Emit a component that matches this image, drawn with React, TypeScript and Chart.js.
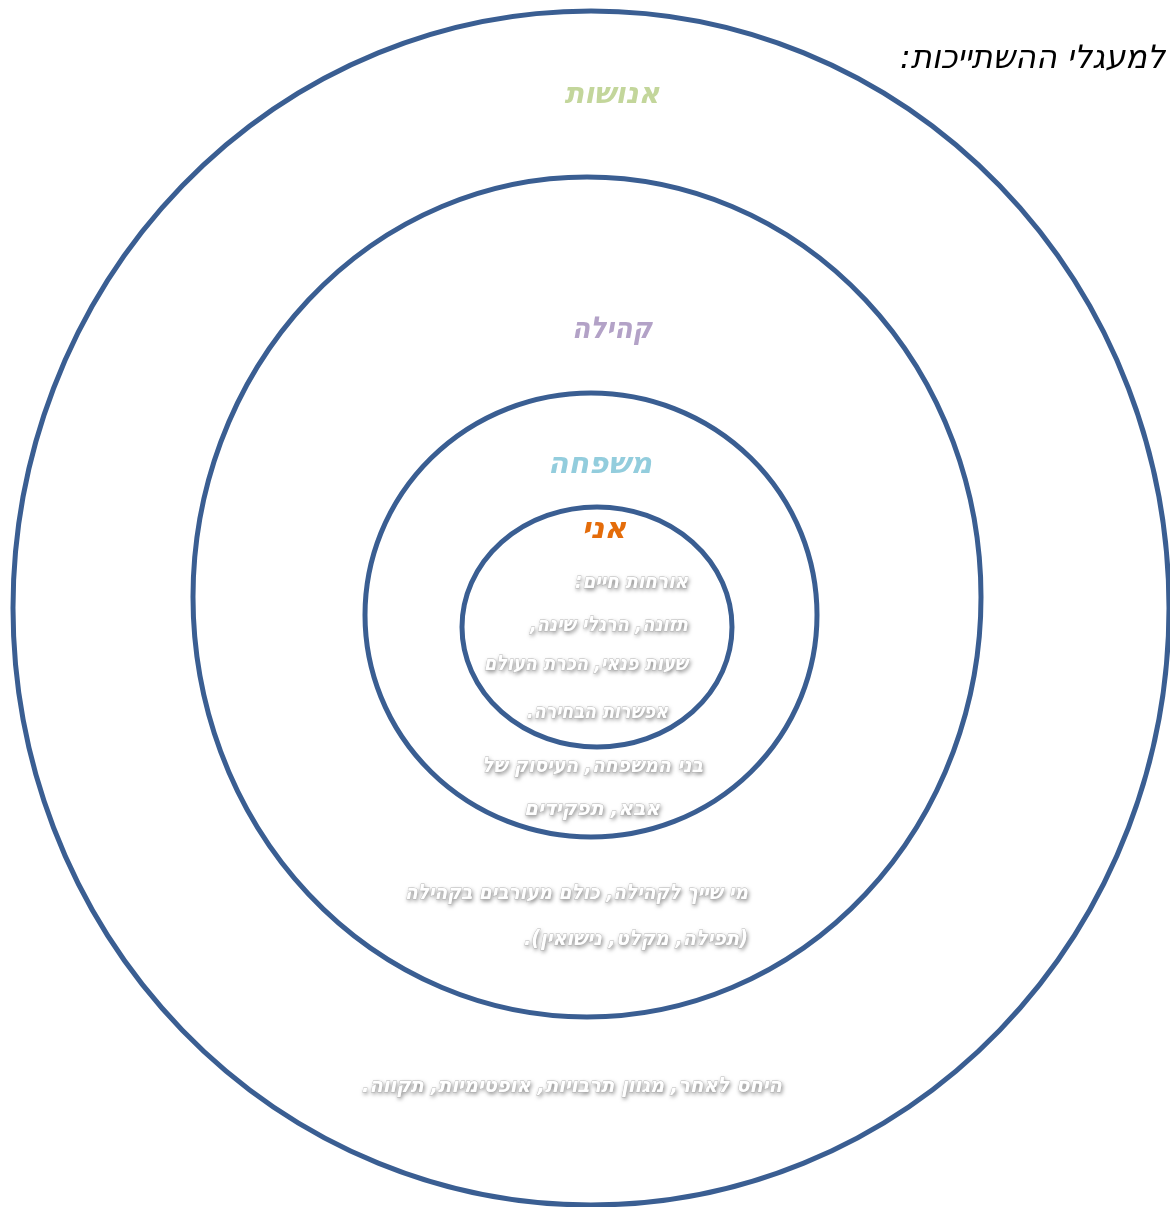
import React, { useEffect, useRef } from "react";
import { Chart, registerables } from "chart.js";

Chart.register(...registerables);

// Rings (ellipses): centre and radii in chart units
const ringNames = ["אנושות", "קהילה", "משפחה", "אני"];
const ringCx = [591, 587, 591, 597];
const ringCy = [608, 597, 615, 627];
const ringRx = [578, 394, 226, 135];
const ringRy = [597, 420, 222, 120];

// Ring headings
const headingText = ["אנושות", "קהילה", "משפחה", "אני"];
const headingX = [612, 612, 600, 604];
const headingY = [95, 330, 465, 530];
const headingW = [95, 80, 104, 48];
const headingColor = ["#c3d69b", "#b3a2c7", "#93cddd", "#e46c0a"];

// Descriptive lines (x = right edge)
const noteText = [
  "אורחות חיים:",
  "תזונה, הרגלי שינה,",
  "שעות פנאי, הכרת העולם",
  "אפשרות הבחירה.",
  "בני המשפחה, העיסוק של",
  "אבא, תפקידים",
  "מי שייך לקהילה, כולם מעורבים בקהילה",
  "(תפילה, מקלט, נישואין).",
  "היחס לאחר, מגוון תרבויות, אופטימיות, תקווה.",
];
const noteX = [688, 688, 688, 668, 703, 660, 748, 748, 782];
const noteY = [583, 626, 665, 713, 767, 810, 894, 940, 1087];
const noteW = [113, 158, 204, 141, 221, 136, 343, 224, 420];

const titleText = "למעגלי ההשתייכות:";
const titleX = 1165;
const titleY = 60;
const titleW = 265;

const ringPlugin = {
  id: "rings",
  afterDatasetsDraw(chart: any) {
    const ctx = chart.ctx as CanvasRenderingContext2D;
    const xs = chart.scales.x;
    const ys = chart.scales.y;
    ctx.save();
    // rings
    ctx.strokeStyle = "#3a5e92";
    ctx.lineWidth = 5;
    for (let i = 0; i < ringCx.length; i++) {
      const px = xs.getPixelForValue(ringCx[i]);
      const py = ys.getPixelForValue(ringCy[i]);
      const rx = Math.abs(xs.getPixelForValue(ringCx[i] + ringRx[i]) - px);
      const ry = Math.abs(ys.getPixelForValue(ringCy[i] + ringRy[i]) - py);
      ctx.beginPath();
      ctx.ellipse(px, py, rx, ry, 0, 0, Math.PI * 2);
      ctx.stroke();
    }
    ctx.direction = "rtl";
    ctx.textBaseline = "middle";
    // title
    ctx.font = 'italic 32px "DejaVu Sans"';
    ctx.fillStyle = "#000000";
    ctx.textAlign = "right";
    ctx.fillText(titleText, xs.getPixelForValue(titleX), ys.getPixelForValue(titleY), titleW);
    // headings
    ctx.textAlign = "center";
    ctx.font = 'italic bold 30px "DejaVu Sans"';
    for (let i = 0; i < headingText.length; i++) {
      ctx.fillStyle = headingColor[i];
      ctx.fillText(
        headingText[i],
        xs.getPixelForValue(headingX[i]),
        ys.getPixelForValue(headingY[i]),
        headingW[i]
      );
    }
    // notes: white with grey glow
    ctx.textAlign = "right";
    ctx.font = 'italic bold 21px "DejaVu Sans"';
    for (let i = 0; i < noteText.length; i++) {
      const x = xs.getPixelForValue(noteX[i]);
      const y = ys.getPixelForValue(noteY[i]);
      ctx.shadowColor = "rgba(0,0,0,0.55)";
      ctx.shadowBlur = 4;
      ctx.shadowOffsetX = 1;
      ctx.shadowOffsetY = 2;
      ctx.fillStyle = "#ffffff";
      ctx.fillText(noteText[i], x, y, noteW[i]);
      ctx.shadowColor = "transparent";
      ctx.strokeStyle = "rgba(170,170,170,0.8)";
      ctx.lineWidth = 0.8;
      ctx.strokeText(noteText[i], x, y, noteW[i]);
      ctx.fillText(noteText[i], x, y, noteW[i]);
    }
    ctx.restore();
  },
};

export default function App() {
  const ref = useRef<HTMLCanvasElement | null>(null);
  useEffect(() => {
    if (!ref.current) return;
    const chart = new Chart(ref.current, {
      type: "scatter",
      data: {
        datasets: [
          {
            label: "rings",
            data: ringCx.map((x, i) => ({ x, y: ringCy[i] })),
            pointRadius: 0,
            pointHoverRadius: 0,
          },
        ],
      },
      options: {
        responsive: false,
        animation: false,
        events: [],
        layout: { padding: 0 },
        plugins: { legend: { display: false }, tooltip: { enabled: false } },
        scales: {
          x: { type: "linear", min: 0, max: 1170, display: false },
          y: { type: "linear", min: 0, max: 1207, reverse: true, display: false },
        },
      },
      plugins: [ringPlugin],
    });
    return () => chart.destroy();
  }, []);
  return (
    <div style={{ position: "absolute", left: 0, top: 0, width: 1170, height: 1207, background: "#ffffff" }}>
      <canvas ref={ref} width={1170} height={1207} style={{ display: "block" }} />
    </div>
  );
}
